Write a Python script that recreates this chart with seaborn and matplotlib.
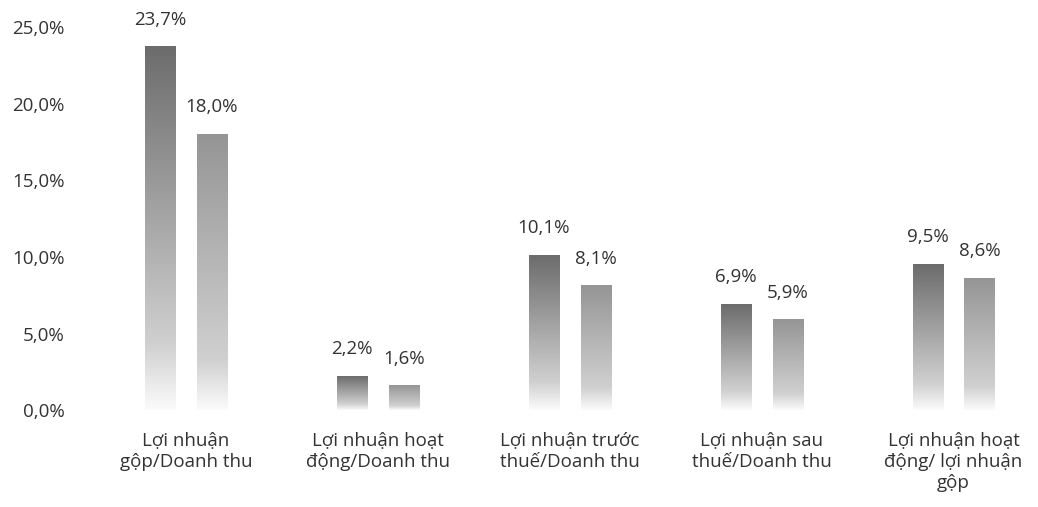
import numpy as np
import pandas as pd
import matplotlib
matplotlib.use("Agg")
import matplotlib.pyplot as plt
import seaborn as sns
from matplotlib.colors import LinearSegmentedColormap

# data
categories = [
    "Lợi nhuận\ngộp/Doanh thu",
    "Lợi nhuận hoạt\nđộng/Doanh thu",
    "Lợi nhuận trước\nthuế/Doanh thu",
    "Lợi nhuận sau\nthuế/Doanh thu",
    "Lợi nhuận hoạt\nđộng/ lợi nhuận\ngộp",
]
series_names = ["A", "B"]
values_a = [23.7, 2.2, 10.1, 6.9, 9.5]
values_b = [18.0, 1.6, 8.1, 5.9, 8.6]
yticks = [0, 5, 10, 15, 20, 25]

df = pd.DataFrame({
    "cat": categories * 2,
    "series": [series_names[0]] * 5 + [series_names[1]] * 5,
    "value": values_a + values_b,
})

sns.set_style("white")
plt.rcParams["font.family"] = ["Open Sans", "DejaVu Sans"]

fig = plt.figure(figsize=(10.38, 5.07), dpi=100)
ax = fig.add_axes([0.0867, 0.191, 0.9133, 0.756])

sns.barplot(data=df, x="cat", y="value", hue="series", order=categories,
            hue_order=series_names, palette=["#707070", "#9a9a9a"],
            width=0.54, gap=0.42, legend=False, ax=ax)

# swap solid bars for vertical gradients (dark top, fading to white)
tops = {0: "#6c6c6c", 1: "#959595"}
grad = np.linspace(0, 1, 256).reshape(-1, 1)
bars = [p for p in ax.patches if p.get_height() > 0]
for i, p in enumerate(bars):
    s = i // len(categories)
    cmap = LinearSegmentedColormap.from_list(
        "g", [(0, "#fbfbfb"), (0.18, "#d0d0d0"), (1, tops[s])])
    x0 = p.get_x()
    w = p.get_width()
    h = p.get_height()
    ax.imshow(grad, extent=[x0, x0 + w, 0, h], origin="lower", cmap=cmap,
              aspect="auto", zorder=2)
    p.set_facecolor("none")
    p.set_edgecolor("none")

for cont in ax.containers:
    ax.bar_label(cont, labels=[f"{v:.1f}%".replace(".", ",") for v in cont.datavalues],
                 padding=13, fontsize=13.5, color="#333333")

ax.set_xlim(-0.5, 4.44)
ax.set_ylim(0, 25)
ax.set_yticks(yticks)
ax.set_yticklabels([f"{t:.1f}%".replace(".", ",") for t in yticks])
ax.tick_params(axis="y", labelsize=13.5, labelcolor="#333333", pad=18, length=0)
ax.tick_params(axis="x", labelsize=13.5, labelcolor="#333333", pad=16, length=0)
ax.set_xlabel("")
ax.set_ylabel("")
sns.despine(ax=ax, left=True, bottom=True)

fig.savefig("out.png", dpi=100)
